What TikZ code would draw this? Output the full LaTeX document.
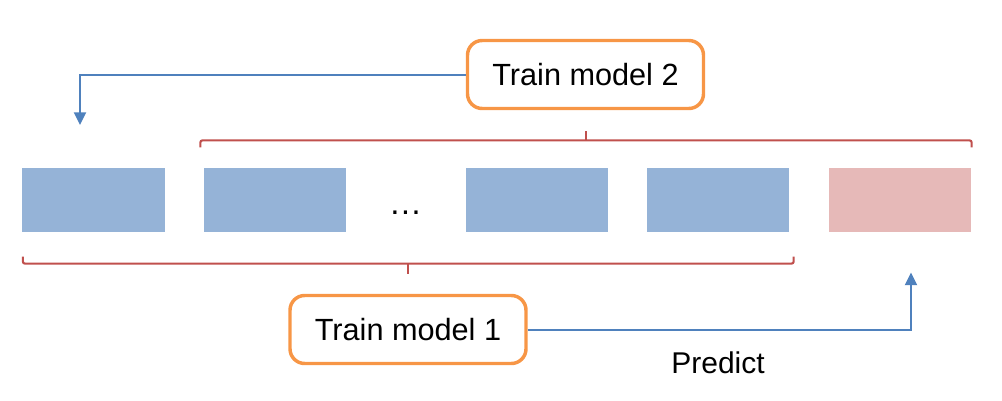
\documentclass[tikz,border=0pt]{standalone}
\usepackage{fontspec}
\setmainfont{Liberation Sans}
\usetikzlibrary{calc,arrows.meta}
\definecolor{foldblue}{RGB}{149,179,215}
\definecolor{foldpink}{RGB}{230,185,184}
\definecolor{boxorange}{RGB}{247,150,70}
\definecolor{linkblue}{RGB}{79,129,189}
\definecolor{bracered}{RGB}{192,80,77}

\begin{document}
\begin{tikzpicture}[x=0.75pt,y=-0.75pt,
	fold/.style={minimum width=107pt,minimum height=48.5pt,inner sep=0pt},
	model/.style={draw=boxorange,line width=2.6pt,rounded corners=11pt,
		minimum width=177pt,minimum height=51pt,font=\fontsize{23}{27}\selectfont},
	link/.style={linkblue,line width=1.5pt,-{Triangle[width=9pt,length=9.5pt]}},
	brace/.style={bracered,line width=1.6pt,rounded corners=1.5pt}]
	\useasboundingbox (0,0) rectangle (1002,400);
	
	%FOLDS
	\foreach \x/\n in {93.5/b1,275/b2,537/b3,718/b4}
	\node[fold,fill=foldblue] (\n) at (\x,200) {};
	\node[fold,fill=foldpink] (b5) at (900,200) {};
	\node[anchor=base,font=\fontsize{25}{29}\selectfont] (dots) at (405.5,214) {\textellipsis};
	
	%MODELS
	\node[model] (m2) at (585.5,74.5) {Train model 2};
	\node[model] (m1) at (408,329.5) {Train model 1};
	\node[font=\fontsize{22.5}{27}\selectfont] (pred) at (718,363) {Predict};
	
	%BRACES
	%top: folds 2..5
	\draw[brace] ($(b2.north west)+(-3,-20)$) -- ($(b2.north west)+(-3,-27)$) 
				 -- ($(b5.north east)+(0,-27)$) -- ($(b5.north east)+(0,-20)$);
	\draw[brace] ($(b2.north west)!0.5!(b5.north east)+(-1.5,-27)$) -- +(0,-9);
	%bottom: folds 1..4
	\draw[brace] ($(b1.south west)+(1,24)$) -- ($(b1.south west)+(1,31)$) 
				 -- ($(b4.south east)+(4,31)$) -- ($(b4.south east)+(4,24)$);
	\draw[brace] ($(b1.south west)!0.5!(b4.south east)+(2.5,31)$) -- +(0,10);
	
	%ARROWS
	\coordinate (a2) at (80,125);
	\coordinate (a1) at (911,272.5);
	\draw[link] (m2.west) -| (a2);
	\draw[link] (m1.east) -| (a1);
\end{tikzpicture}
\end{document}
